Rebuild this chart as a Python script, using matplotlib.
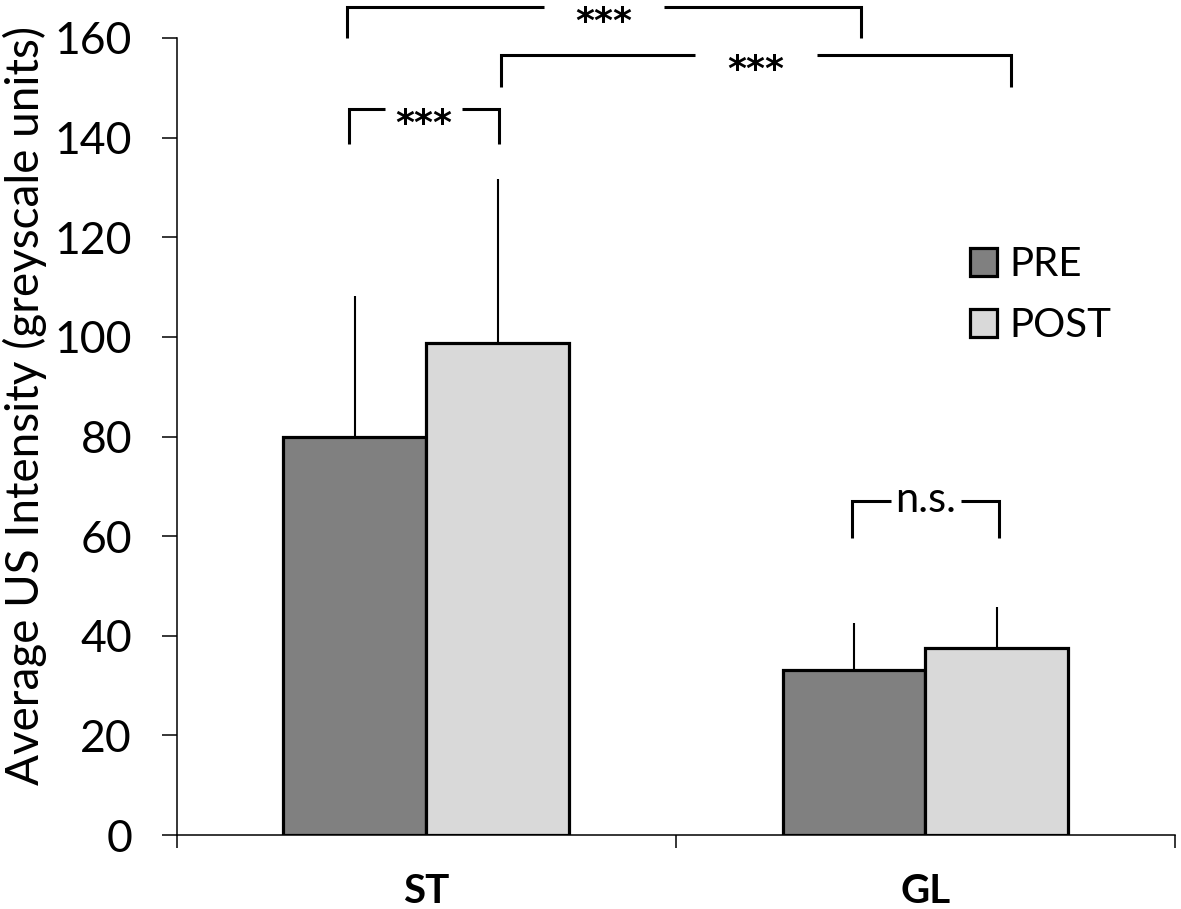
import numpy as np
import matplotlib
matplotlib.use("Agg")
import matplotlib.pyplot as plt
from matplotlib.patches import Patch

plt.rcParams["font.family"] = ["Lato", "DejaVu Sans"]

# datos
grupos = ["ST", "GL"]
pre = [80.0, 33.2]
post = [98.7, 37.5]
pre_err = [28.3, 9.4]
post_err = [32.9, 8.2]

# comparaciones: (x izq, x der, altura linea, altura patas, texto)
comparaciones = [
    (-0.158, 0.870, 166.2, 160.0, "***"),
    (0.150, 1.172, 156.6, 150.2, "***"),
    (-0.155, 0.145, 145.7, 138.8, "***"),
    (0.853, 1.148, 67.0, 59.6, "n.s."),
]
huecos = [0.24, 0.245, 0.155, 0.14]

fig = plt.figure(figsize=(11.81, 9.09), dpi=100)
ax = fig.add_axes([0.1495, 0.0814, 0.8455, 0.8768])

x = np.arange(len(grupos))
ancho = 0.286

ax.errorbar(x - ancho / 2, pre, yerr=[np.zeros(2), pre_err], fmt="none",
            ecolor="black", elinewidth=1.5, capsize=0, zorder=1)
ax.errorbar(x + ancho / 2, post, yerr=[np.zeros(2), post_err], fmt="none",
            ecolor="black", elinewidth=1.5, capsize=0, zorder=1)

ax.bar(x - ancho / 2, pre, ancho, color="#808080", edgecolor="black",
       linewidth=2.3, zorder=2, label="PRE")
ax.bar(x + ancho / 2, post, ancho, color="#d9d9d9", edgecolor="black",
       linewidth=2.3, zorder=2, label="POST")

ax.set_xlim(-0.5, 1.5)
ax.set_ylim(0, 160)
ax.set_yticks(np.arange(0, 161, 20))

ax.spines["top"].set_visible(False)
ax.spines["right"].set_visible(False)
ax.spines["left"].set_linewidth(1.1)
ax.spines["bottom"].set_linewidth(1.1)

ax.set_xticks([-0.5, 0.5, 1.5])
ax.set_xticklabels([])
ax.set_xticks(x, minor=True)
ax.set_xticklabels(grupos, minor=True, fontsize=29, fontweight="bold")
ax.tick_params(axis="x", which="major", direction="out", length=9, width=1.1)
ax.tick_params(axis="x", which="minor", length=0, pad=27)
ax.tick_params(axis="y", direction="out", length=11, width=1.1, labelsize=32, pad=21)

fig.text(25 / 1181, 1 - 405 / 909, "Average US Intensity (greyscale units)",
         rotation=90, ha="center", va="center", fontsize=33)

# corchetes de significancia
for (x1, x2, yl, yp, txt), hueco in zip(comparaciones, huecos):
    xc = (x1 + x2) / 2
    ax.plot([x1, x1, xc - hueco / 2], [yp, yl, yl], color="black", lw=2.2,
            clip_on=False, solid_joinstyle="miter", solid_capstyle="butt")
    ax.plot([xc + hueco / 2, x2, x2], [yl, yl, yp], color="black", lw=2.2,
            clip_on=False, solid_joinstyle="miter", solid_capstyle="butt")
    if txt == "n.s.":
        ax.annotate(txt, xy=(xc, yl), xytext=(0, -8), textcoords="offset points",
                    ha="center", va="baseline", fontsize=30, annotation_clip=False)
    else:
        ax.annotate(txt, xy=(xc, yl), xytext=(0, -18), textcoords="offset points",
                    ha="center", va="baseline", fontsize=26, fontweight="bold",
                    family="DejaVu Sans", annotation_clip=False)

handles = [Patch(facecolor="#808080", edgecolor="black", linewidth=2.3),
           Patch(facecolor="#d9d9d9", edgecolor="black", linewidth=2.3)]
fig.legend(handles, ["PRE", "POST"], loc="upper left",
           bbox_to_anchor=(970 / 1181, 1 - 246 / 909), frameon=False,
           fontsize=29, handlelength=0.68, handleheight=0.68,
           handletextpad=0.3, labelspacing=0.6, borderpad=0, borderaxespad=0)

fig.savefig("out.png", dpi=100)
